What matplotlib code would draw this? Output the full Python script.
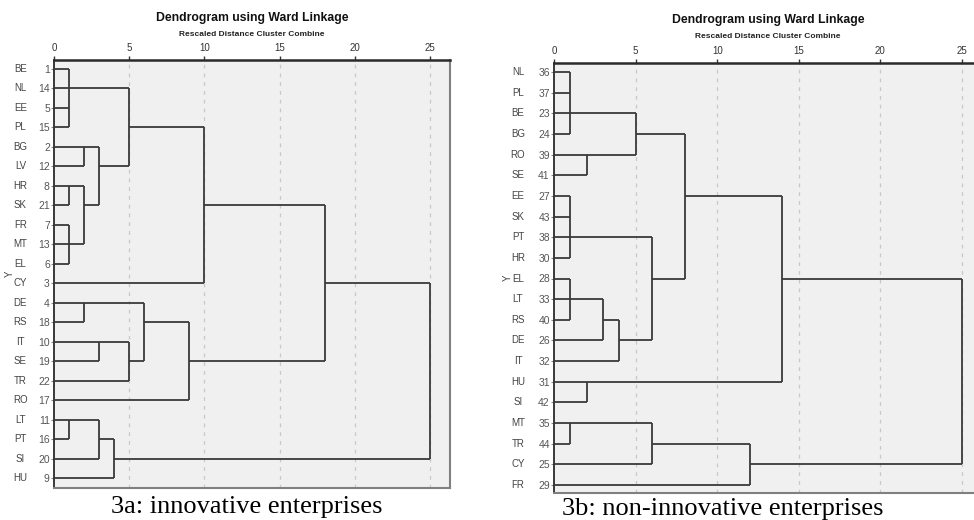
import matplotlib
matplotlib.use("Agg")
import matplotlib.pyplot as plt
import matplotlib.transforms as mtransforms

# innovative enterprises
labels_a = ["BE", "NL", "EE", "PL", "BG", "LV", "HR", "SK", "FR", "MT", "EL",
            "CY", "DE", "RS", "IT", "SE", "TR", "RO", "LT", "PT", "SI", "HU"]
cases_a = [1, 14, 5, 15, 2, 12, 8, 21, 7, 13, 6, 3, 4, 18, 10, 19, 22, 17,
           11, 16, 20, 9]
# merges: member node ids (leaves first, then merges in order), height, row the line is drawn on
members_a = [[0, 1, 2, 3], [4, 5], [6, 7], [8, 9, 10], [24, 25], [23, 26],
             [22, 27], [28, 11], [12, 13], [14, 15], [31, 16], [30, 32],
             [33, 17], [29, 34], [18, 19], [36, 20], [37, 21], [35, 38]]
heights_a = [1, 2, 1, 1, 2, 3, 5, 10, 2, 3, 5, 6, 9, 18, 1, 3, 4, 25]
rows_a = [1, 4, 6, 9, 7, 5, 3, 7, 12, 14, 15, 13, 15, 11, 18, 19, 20, None]

# non-innovative enterprises
labels_b = ["NL", "PL", "BE", "BG", "RO", "SE", "EE", "SK", "PT", "HR", "EL",
            "LT", "RS", "DE", "IT", "HU", "SI", "MT", "TR", "CY", "FR"]
cases_b = [36, 37, 23, 24, 39, 41, 27, 43, 38, 30, 28, 33, 40, 26, 32, 31,
           42, 35, 44, 25, 29]
members_b = [[0, 1, 2, 3], [4, 5], [21, 22], [6, 7, 8, 9], [10, 11, 12],
             [25, 13], [26, 14], [24, 27], [23, 28], [15, 16], [29, 30],
             [17, 18], [32, 19], [33, 20], [31, 34]]
heights_b = [1, 2, 5, 1, 1, 3, 4, 6, 8, 2, 14, 1, 6, 12, 25]
rows_b = [2, 4, 3, 8, 11, 12, 13, 10, 6, 15, 10, 17, 18, 19, None]

xticks = [0, 5, 10, 15, 20, 25]

W, H = 974, 520
fig = plt.figure(figsize=(W / 100, H / 100), dpi=100)
fig.patch.set_facecolor("white")

narrow = ["Liberation Sans Narrow", "Liberation Sans", "DejaVu Sans"]
LINE = "#3a3a3a"


def box(x0, x1, y0, y1):
    return [x0 / W, 1 - y1 / H, (x1 - x0) / W, (y1 - y0) / H]


def dendro(ax, labels, cases, members, heights, rows):
    n = len(labels)
    node_row = list(range(n)) + list(rows)
    node_h = [0] * n + list(heights)
    parent_h = {}
    for k, mem in enumerate(members):
        for c in mem:
            parent_h[c] = heights[k]
    # horizontal runs from each node up to its parent
    for i, ph in parent_h.items():
        ax.plot([node_h[i], ph], [node_row[i], node_row[i]], color=LINE,
                lw=1.3, solid_capstyle="butt", zorder=3)
    # vertical joins
    for k, mem in enumerate(members):
        rr = [node_row[c] for c in mem]
        ax.plot([heights[k], heights[k]], [min(rr), max(rr)], color=LINE,
                lw=1.3, solid_capstyle="butt", zorder=3)

    ax.set_facecolor("#f0f0f0")
    ax.xaxis.tick_top()
    ax.set_xticks(xticks)
    ax.set_xticklabels([str(t) for t in xticks], family=narrow, fontsize=7,
                       color="#333333")
    ax.tick_params(axis="x", direction="out", length=3, width=1,
                   color="#333333", pad=2)
    ax.set_yticks(range(n))
    ax.set_yticklabels([str(c) for c in cases], family=narrow, fontsize=7.5,
                       color="#555555")
    ax.tick_params(axis="y", direction="out", length=2, width=0.8,
                   color="#888888", pad=1)
    for x in xticks[1:]:
        ax.axvline(x, color="#c8c8c8", lw=0.9, ls=(0, (3, 4)), zorder=1)
    trans = mtransforms.blended_transform_factory(ax.transAxes, ax.transData)
    for i, lab in enumerate(labels):
        ax.text(-0.085, i, lab, transform=trans, ha="center", va="center",
                family=narrow, fontsize=7, color="#444444")
    ax.set_ylabel("Y", family=narrow, fontsize=7, color="#444444")
    ax.spines["top"].set_color("#2a2a2a")
    ax.spines["top"].set_linewidth(1.8)
    ax.spines["left"].set_color("#2a2a2a")
    ax.spines["left"].set_linewidth(1.3)
    ax.spines["right"].set_color("#808080")
    ax.spines["right"].set_linewidth(1.5)
    ax.spines["bottom"].set_color("#808080")
    ax.spines["bottom"].set_linewidth(1.5)


# left panel: 0 at x=54, 25 at x=430
ax1 = fig.add_axes(box(54, 450, 60, 488))
dendro(ax1, labels_a, cases_a, members_a, heights_a, rows_a)
ax1.set_xlim(0, 25 * 396 / 376)
ax1.set_ylim(21 + 10 / 19.48, -9 / 19.48)
ax1.yaxis.set_label_coords(-0.1, 0.5)

# right panel: 0 at x=554, 25 at x=962
ax2 = fig.add_axes(box(554, 978, 63, 493))
dendro(ax2, labels_b, cases_b, members_b, heights_b, rows_b)
ax2.set_xlim(0, 25 * 424 / 408)
ax2.set_ylim(20 + 8 / 20.65, -9 / 20.65)
ax2.yaxis.set_label_coords(-0.097, 0.5)

for cx, ty in [(252, 0), (768, 2)]:
    fig.text(cx / W, 1 - (18 + ty) / H, "Dendrogram using Ward Linkage",
             ha="center", va="center", family=narrow, fontsize=8.8,
             fontweight="bold", color="#111111")
    fig.text(cx / W, 1 - (34 + ty) / H, "Rescaled Distance Cluster Combine",
             ha="center", va="center", family=narrow, fontsize=6,
             fontweight="bold", color="#222222")

fig.text(247 / W, 1 - 507 / H, "3a: innovative enterprises", ha="center",
         va="center", family="Liberation Serif", fontsize=19, color="black")
fig.text(723 / W, 1 - 509 / H, "3b: non-innovative enterprises", ha="center",
         va="center", family="Liberation Serif", fontsize=19, color="black")

fig.savefig("out.png", dpi=100, facecolor="white")
